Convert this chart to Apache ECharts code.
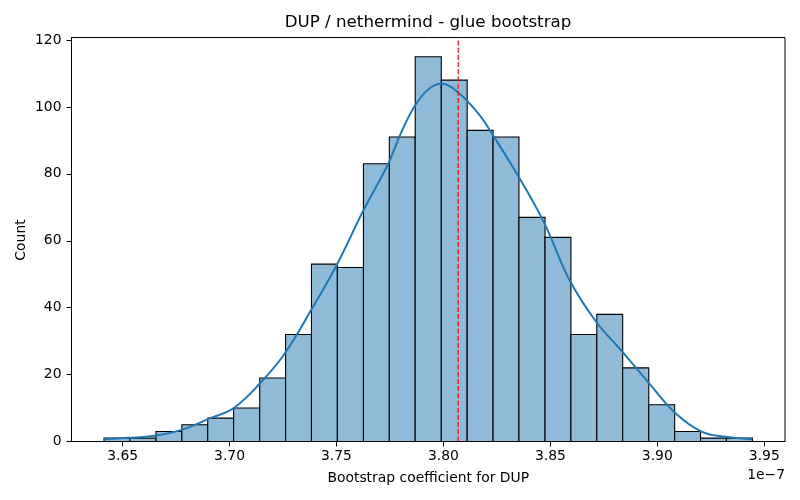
<!DOCTYPE html>
<html>
<head>
<meta charset="utf-8">
<script src="https://cdn.jsdelivr.net/npm/echarts@6/dist/echarts.min.js"></script>
<style>
html,body{margin:0;padding:0;background:#fff;}
#chart{width:800px;height:500px;}
</style>
</head>
<body>
<div id="chart"></div>
<script>
// Histogram bin edges (units of 1e-7) and counts
const binEdges = [3.6413, 3.6534, 3.6656, 3.6777, 3.6898, 3.7019, 3.7141, 3.7262, 3.7383,
  3.7504, 3.7626, 3.7747, 3.7868, 3.7990, 3.8111, 3.8232, 3.8353, 3.8475, 3.8596,
  3.8717, 3.8838, 3.8960, 3.9081, 3.9202, 3.9323, 3.9445];
const binCounts = [1, 1, 3, 5, 7, 10, 19, 32, 53, 52, 83, 91, 115, 108, 93, 91, 67, 61,
  32, 38, 22, 11, 3, 1, 1];
// KDE curve
const kdeX = [3.6413, 3.6530, 3.6647, 3.6772, 3.6911, 3.7020, 3.7144, 3.7258, 3.7386,
  3.7503, 3.7626, 3.7742, 3.7800, 3.7867, 3.7930, 3.7991, 3.8068, 3.8170, 3.8230, 3.8350,
  3.8470, 3.8590, 3.8714, 3.8830, 3.8962, 3.9086, 3.9210, 3.9319, 3.9445];
const kdeY = [0.7, 1.1, 1.7, 3.4, 7.0, 10.0, 17.5, 26.3, 39.8,
  53.0, 69.1, 83.0, 92.0, 100.4, 105.3, 106.9, 104.4, 97.5, 91.7, 79.3,
  65.5, 48.2, 35.8, 27.3, 17.4, 8.4, 2.9, 1.4, 0.7];
const meanLine = 3.8069;
const xTicks = [3.65, 3.70, 3.75, 3.80, 3.85, 3.90, 3.95];
const yTicks = [0, 20, 40, 60, 80, 100, 120];
const xMin = 3.6261, xMax = 3.9597, yMin = 0, yMax = 120.75;

const histData = binCounts.map((c, i) => [binEdges[i], binEdges[i + 1], c]);
const kdeData = kdeX.map((x, i) => [x, kdeY[i]]);
const meanData = [[meanLine, yMin], [meanLine, yMax]];

const font = 'DejaVu Sans';
const chart = echarts.init(document.getElementById('chart'), null, {renderer: 'canvas'});
chart.setOption({
  backgroundColor: '#ffffff',
  animation: false,
  graphic: [{
    type: 'text', x: 428, y: 23,
    style: {text: 'DUP / nethermind - glue bootstrap', font: '16.7px "DejaVu Sans"', fill: '#000',
      align: 'center', verticalAlign: 'middle'}
  }, {
    type: 'text', right: 15, top: 468,
    style: {text: '1e\u22127', font: '13.9px "DejaVu Sans"', fill: '#000'}
  }, {
    type: 'text', x: 21, y: 240, rotation: Math.PI / 2,
    style: {text: 'Count', font: '13.9px "DejaVu Sans"', fill: '#000',
      align: 'center', verticalAlign: 'middle'}
  }],
  grid: {left: 71.5, right: 15, top: 37.5, bottom: 58.5, show: true,
    borderColor: '#000', borderWidth: 1, backgroundColor: 'transparent'},
  xAxis: {
    type: 'value', min: xMin, max: xMax,
    name: 'Bootstrap coefficient for DUP', nameLocation: 'middle', nameGap: 30,
    nameTextStyle: {fontFamily: font, fontSize: 13.9, color: '#000'},
    axisLine: {show: true, onZero: false, lineStyle: {color: '#000', width: 1}},
    axisTick: {show: true, length: 5, customValues: xTicks, lineStyle: {color: '#000', width: 1}},
    axisLabel: {customValues: xTicks, margin: 8, fontFamily: font, fontSize: 13.9, color: '#000',
      formatter: v => v.toFixed(2)},
    splitLine: {show: false}
  },
  yAxis: {
    type: 'value', min: yMin, max: yMax,
    axisLine: {show: true, lineStyle: {color: '#000', width: 1}},
    axisTick: {show: true, length: 5, customValues: yTicks, lineStyle: {color: '#000', width: 1}},
    axisLabel: {customValues: yTicks, margin: 10, fontFamily: font, fontSize: 13.9, color: '#000'},
    splitLine: {show: false}
  },
  series: [{
    type: 'custom',
    data: histData,
    encode: {x: [0, 1], y: 2},
    renderItem: function (params, api) {
      const p0 = api.coord([api.value(0), 0]);
      const p1 = api.coord([api.value(1), api.value(2)]);
      return {
        type: 'rect',
        shape: {x: p0[0], y: p1[1], width: p1[0] - p0[0], height: p0[1] - p1[1]},
        style: {fill: '#8fbbd9', stroke: '#000', lineWidth: 1.1}
      };
    },
    z: 2
  }, {
    type: 'line',
    data: kdeData,
    smooth: 0.4,
    showSymbol: false,
    lineStyle: {color: '#1f77b4', width: 2},
    z: 3
  }, {
    type: 'line',
    data: meanData,
    showSymbol: false,
    lineStyle: {color: '#ff0000', type: [5, 2.2], width: 1.2},
    z: 4
  }]
});
</script>
</body>
</html>
